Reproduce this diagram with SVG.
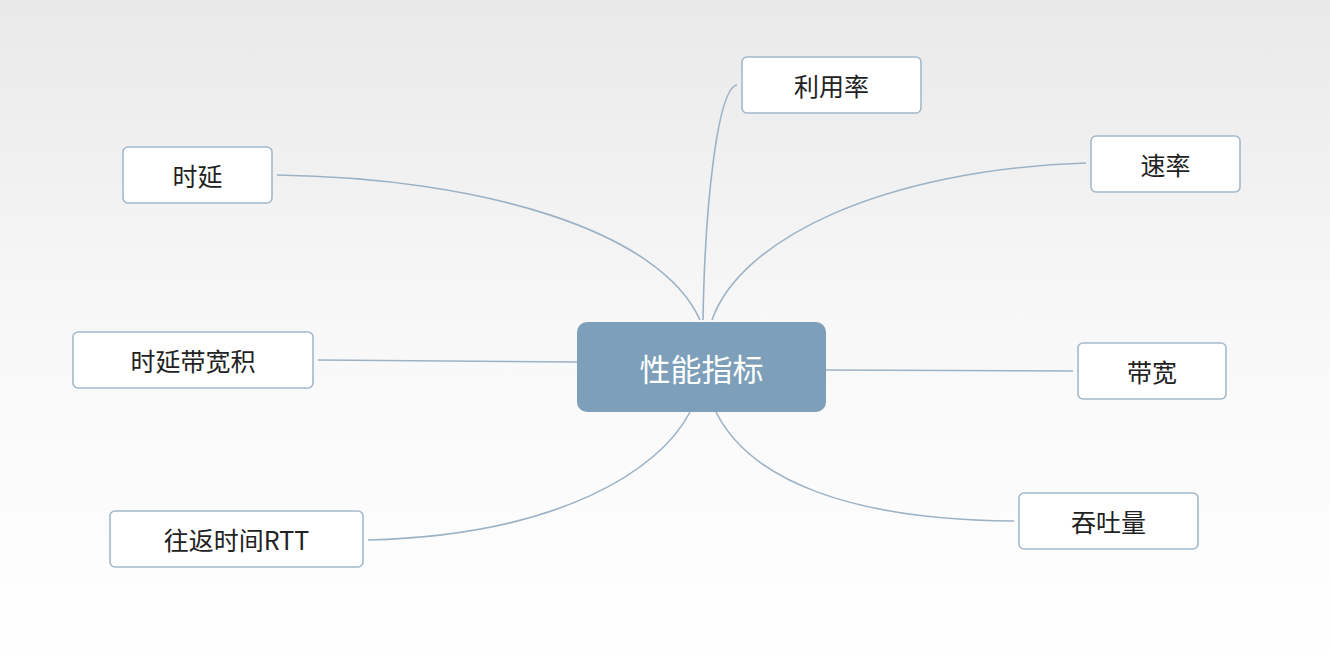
<svg xmlns="http://www.w3.org/2000/svg" width="1330" height="662" viewBox="0 0 1330 662">
<defs>
<linearGradient id="bg" x1="0" y1="0" x2="0" y2="1">
<stop offset="0" stop-color="#e9e9e9"/><stop offset="0.5" stop-color="#f8f8f8"/><stop offset="1" stop-color="#ffffff"/>
</linearGradient>
<style>
.leaf rect{fill:#fff;stroke:#a3b8cb;stroke-width:1.6}
.leaf text{font-family:"Noto Sans CJK SC","Liberation Sans",sans-serif;font-size:25px;fill:#222;text-anchor:middle;dominant-baseline:central}
.conn path{fill:none;stroke:#9cb2c5;stroke-width:1.6}
</style>
</defs>
<rect width="1330" height="662" fill="url(#bg)"/>
<g id="connectors" class="conn">
<path d="M277,175 C480,178 660,230 700,320"/>
<path d="M737,85 C718,88 705,200 703,320"/>
<path d="M1086,163 C880,170 740,240 712,320"/>
<path d="M318,360 L577,362"/>
<path d="M826,370 L1073,371"/>
<path d="M368,540 C560,535 660,470 690,412"/>
<path d="M1014,521 C850,520 750,480 716,412"/>
</g>
<g id="center">
<rect x="577" y="322" width="249" height="90" rx="10" fill="#7d9fba"/>
<text x="701.5" y="367" font-family="Noto Sans CJK SC,Liberation Sans,sans-serif" font-size="31" fill="#fff" text-anchor="middle" dominant-baseline="central">性能指标</text>
</g>
<g id="n1" class="leaf"><rect x="742" y="57" width="179" height="56" rx="5"/><text x="831.5" y="85">利用率</text></g>
<g id="n2" class="leaf"><rect x="1091" y="136" width="149" height="56" rx="5"/><text x="1165.5" y="164">速率</text></g>
<g id="n3" class="leaf"><rect x="123" y="147" width="149" height="56" rx="5"/><text x="197.5" y="175">时延</text></g>
<g id="n4" class="leaf"><rect x="73" y="332" width="240" height="56" rx="5"/><text x="193" y="360">时延带宽积</text></g>
<g id="n5" class="leaf"><rect x="1078" y="343" width="148" height="56" rx="5"/><text x="1152" y="371">带宽</text></g>
<g id="n6" class="leaf"><rect x="110" y="511" width="253" height="56" rx="5"/><text x="236.5" y="539">往返时间RTT</text></g>
<g id="n7" class="leaf"><rect x="1019" y="493" width="179" height="56" rx="5"/><text x="1108.5" y="521">吞吐量</text></g>
</svg>
